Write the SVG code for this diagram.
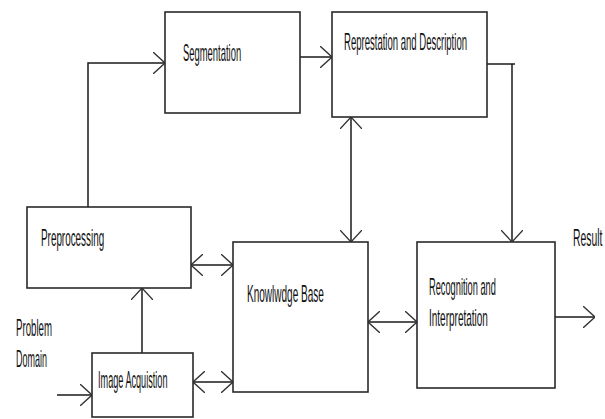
<svg xmlns="http://www.w3.org/2000/svg" width="605" height="419" viewBox="0 0 605 419">
<style>
.box{fill:#fff;stroke:#2a2a2a;stroke-width:1.6}
.c{fill:none;stroke:#1a1a1a;stroke-width:1.5}
text{font-family:"Liberation Sans",Arial,sans-serif;font-size:23px;fill:#111}
</style>
<defs>
<marker id="ah" viewBox="0 0 12 22" refX="12" refY="11" markerWidth="12" markerHeight="22" markerUnits="userSpaceOnUse" orient="auto-start-reverse">
<path d="M0,0 L12,11 L0,22" fill="none" stroke="#333" stroke-width="1.3"/>
</marker>
</defs>
<rect width="605" height="419" fill="#fff"/>
<g id="connectors">
<path class="c" d="M88,207 V63 H165" marker-end="url(#ah)"/>
<path class="c" d="M300,57 H332" marker-end="url(#ah)"/>
<path class="c" d="M351,117 V242" marker-start="url(#ah)" marker-end="url(#ah)"/>
<path class="c" d="M487,64 H515"/>
<path class="c" d="M512,64 V242" marker-end="url(#ah)"/>
<path class="c" d="M191,265 H233" marker-start="url(#ah)" marker-end="url(#ah)"/>
<path class="c" d="M193,382 H233" marker-start="url(#ah)" marker-end="url(#ah)"/>
<path class="c" d="M142,353 V288" marker-end="url(#ah)"/>
<path class="c" d="M57,395 H92" marker-end="url(#ah)"/>
<path class="c" d="M368,322 H417" marker-start="url(#ah)" marker-end="url(#ah)"/>
<path class="c" d="M555,317 H595" marker-end="url(#ah)"/>
</g>
<g id="segmentation">
<rect class="box" x="165" y="12" width="135" height="101"/>
<text transform="translate(183,61) scale(0.41,1)">Segmentation</text>
</g>
<g id="representation">
<rect class="box" x="332" y="12" width="155" height="105"/>
<text transform="translate(344,50) scale(0.415,1)">Represtation and Description</text>
</g>
<g id="preprocessing">
<rect class="box" x="27" y="207" width="164" height="81"/>
<text transform="translate(41,246) scale(0.43,1)">Preprocessing</text>
</g>
<g id="knowledge-base">
<rect class="box" x="233" y="242" width="135" height="150"/>
<text transform="translate(247,302) scale(0.436,1)">Knowlwdge Base</text>
</g>
<g id="recognition">
<rect class="box" x="417" y="242" width="138" height="146"/>
<text transform="translate(429,295) scale(0.403,1)">Recognition and</text>
<text transform="translate(429,326) scale(0.435,1)">Interpretation</text>
</g>
<g id="image-acquisition">
<rect class="box" x="92" y="353" width="101" height="64"/>
<text transform="translate(98,388) scale(0.397,1)">Image Acquistion</text>
</g>
<g id="labels">
<text transform="translate(16,336) scale(0.42,1)">Problem</text>
<text transform="translate(16,367) scale(0.39,1)">Domain</text>
<text transform="translate(573,246) scale(0.45,1)">Result</text>
</g>
</svg>
